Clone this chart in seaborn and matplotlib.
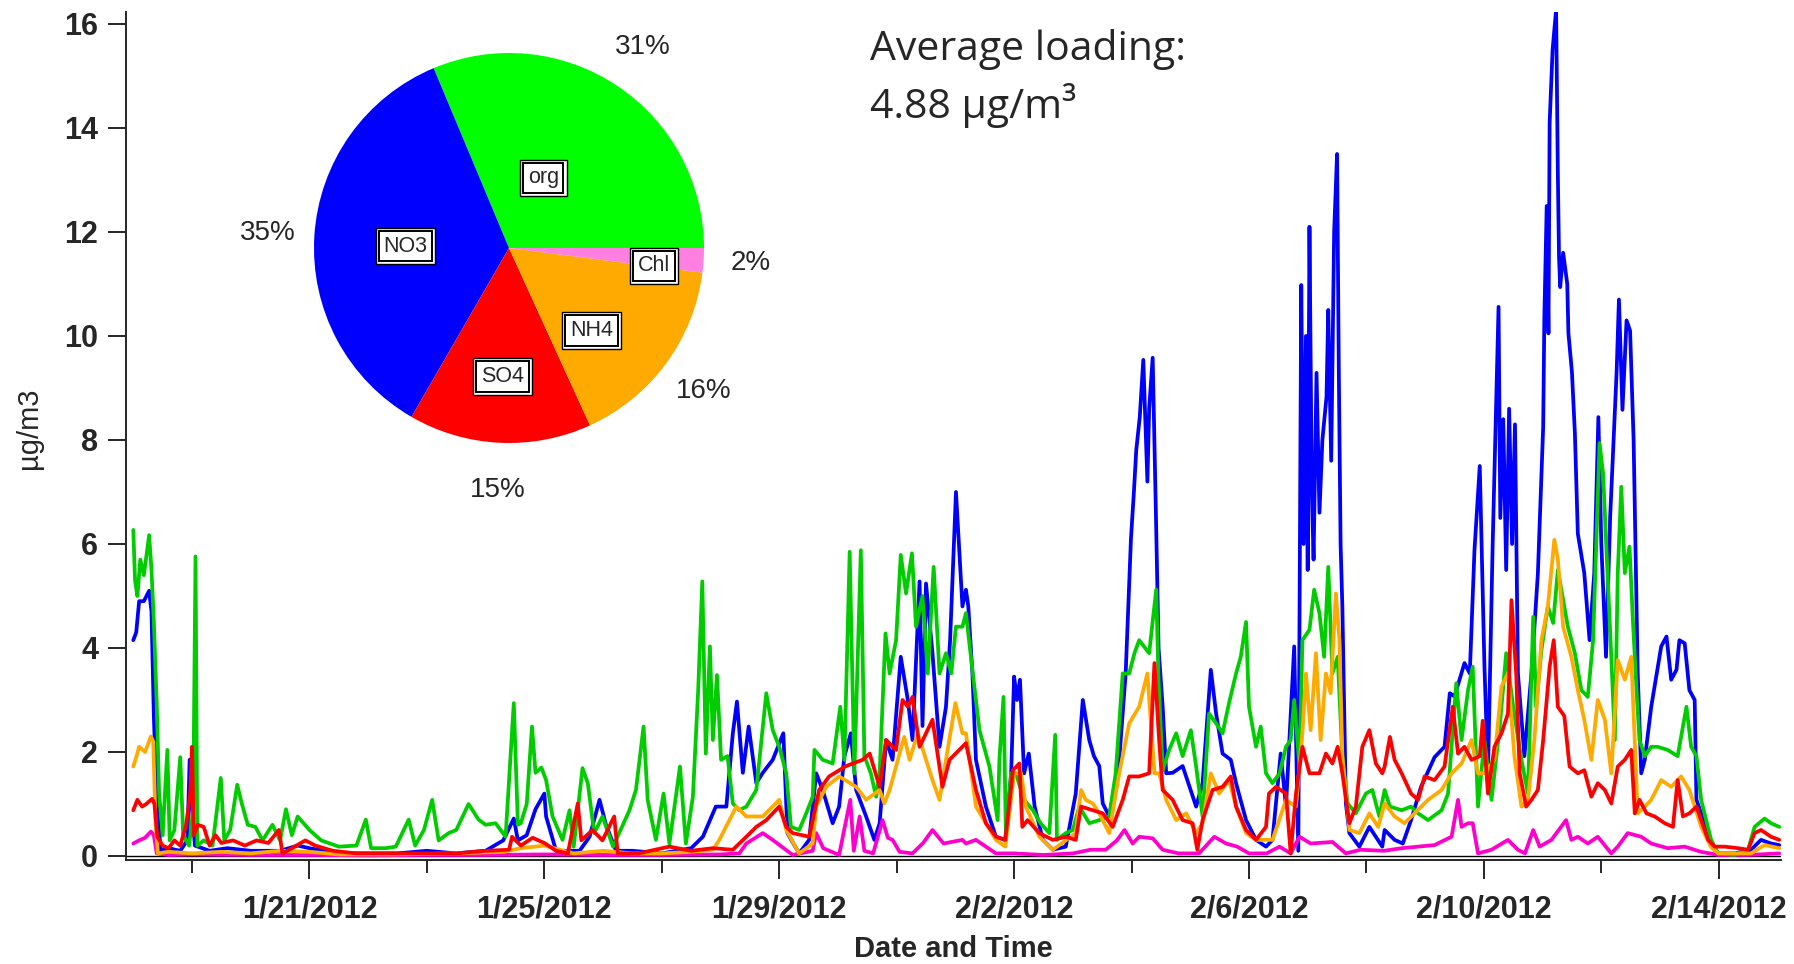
import numpy as np
import pandas as pd
import matplotlib
matplotlib.use('Agg')
import matplotlib.pyplot as plt
import seaborn as sns

start = pd.Timestamp('2012-01-18')

# time series, days after 1/18/2012 00:00 and concentration (ug/m3)
no3_day = [0.00, 0.05, 0.10, 0.18, 0.27, 0.31, 0.35, 0.40, 0.47, 0.6, 0.8, 0.92, 0.96, 1.0, 1.05, 1.3, 1.6, 2.0,
           2.5, 2.8, 3.0, 3.5, 4.0, 4.5, 5.0, 5.5, 6.0, 6.3, 6.48, 6.55, 6.7, 6.85, 7.0, 7.03, 7.2, 7.6, 7.77, 7.94,
           8.05, 8.22, 8.5, 9.0, 9.5, 9.7, 9.92, 10.1, 10.21, 10.28, 10.38, 10.48, 10.61, 10.72, 10.89, 11.07,
           11.14, 11.34, 11.51, 11.63, 11.74, 11.91, 12.02, 12.11, 12.22, 12.31, 12.48, 12.62, 12.71, 12.82, 12.93,
           13.07, 13.19, 13.27, 13.39, 13.44, 13.5, 13.61, 13.73, 13.84, 13.91, 14.01, 14.12, 14.18, 14.22, 14.29,
           14.35, 14.52, 14.69, 14.85, 14.95, 15.0, 15.05, 15.1, 15.17, 15.25, 15.35, 15.49, 15.66, 15.88, 16.05,
           16.17, 16.28, 16.36, 16.45, 16.51, 16.62, 16.79, 16.9, 16.99, 17.04, 17.08, 17.14, 17.2, 17.27, 17.3,
           17.36, 17.42, 17.46, 17.53, 17.59, 17.7, 17.87, 18.1, 18.21, 18.35, 18.44, 18.55, 18.69, 18.78, 18.95,
           19.12, 19.29, 19.4, 19.54, 19.63, 19.77, 19.84, 19.89, 19.93, 19.97, 20.0, 20.03, 20.07, 20.1, 20.15,
           20.2, 20.25, 20.32, 20.35, 20.4, 20.45, 20.5, 20.53, 20.56, 20.59, 20.65, 20.71, 20.88, 21.05, 21.27,
           21.31, 21.48, 21.62, 21.76, 21.93, 22.16, 22.33, 22.42, 22.5, 22.67, 22.76, 22.84, 22.93, 23.01, 23.07,
           23.15, 23.25, 23.28, 23.33, 23.38, 23.43, 23.48, 23.53, 23.58, 23.69, 23.81, 23.92, 24.01, 24.03, 24.07,
           24.1, 24.12, 24.17, 24.23, 24.26, 24.28, 24.3, 24.35, 24.42, 24.44, 24.5, 24.55, 24.6, 24.71, 24.8,
           24.88, 24.95, 25.0, 25.08, 25.15, 25.26, 25.3, 25.36, 25.43, 25.49, 25.55, 25.62, 25.68, 25.74, 25.85,
           26.02, 26.11, 26.19, 26.28, 26.33, 26.42, 26.5, 26.59, 26.62, 26.76, 26.9, 26.99, 27.27, 27.55, 27.72,
           27.89, 28.03]
no3_val = [4.15, 4.3, 4.9, 4.9, 5.1, 4.7, 2.7, 1.0, 0.1, 0.15, 0.1, 0.3, 1.85, 0.9, 0.2, 0.1, 0.15, 0.1,
           0.1, 0.2, 0.15, 0.05, 0.05, 0.05, 0.1, 0.05, 0.1, 0.3, 0.72, 0.3, 0.4, 0.9, 1.2, 0.76, 0.1, 0.1, 0.37, 1.08,
           0.6, 0.1, 0.1, 0.05, 0.15, 0.37, 0.95, 0.95, 2.36, 2.97, 1.6, 2.49, 1.4, 1.6, 1.85, 2.36,
           0.44, 0.05, 0.31, 1.59, 1.27, 0.63, 0.95, 1.92, 2.36, 1.27, 0.76, 0.31, 0.63, 2.23, 1.85,
           3.83, 3.0, 2.23, 5.28, 2.5, 5.24, 3.9, 2.1, 2.87, 4.15, 7.0, 4.8, 5.12, 4.8, 3.51,
           1.85, 0.95, 0.37, 0.31, 1.59, 3.45, 3.0, 3.39, 1.59, 1.97, 0.95, 0.31, 0.12, 0.18, 1.2,
           3.0, 2.23, 1.92, 1.73, 1.01, 0.76, 1.85, 3.51, 6.1, 7.0, 7.8, 8.44, 9.54, 7.2, 8.6,
           9.58, 6.3, 4.0, 2.87, 1.59, 1.6, 1.73, 0.95, 1.4, 3.58, 2.74, 1.97, 1.85, 1.4, 0.69,
           0.31, 0.18, 0.31, 1.97, 0.95, 4.03, 0.1, 10.98, 6.0, 10.0, 5.5, 12.1, 7.0, 5.7, 9.29,
           6.6, 8.0, 8.83, 10.5, 7.6, 12.0, 13.5, 9.3, 6.0, 4.8, 1.01, 0.44, 0.18, 0.56, 0.18,
           0.5, 0.31, 0.24, 0.69, 1.33, 1.9, 2.1, 3.13, 3.07, 3.71, 3.51, 5.88, 7.5, 3.64, 1.59,
           6.0, 10.56, 6.5, 8.4, 5.5, 8.6, 6.0, 8.3, 3.51, 1.92, 3.51, 5.44, 8.25, 10.37, 12.5,
           10.05, 14.1, 15.5, 16.27, 13.1, 11.5, 10.94, 11.6, 11.0, 10.05, 9.3, 8.13, 6.2, 5.44, 4.15,
           5.44, 8.44, 6.0, 3.83, 6.5, 9.29, 10.7, 8.58, 10.3, 10.1, 8.0, 3.51, 1.59, 1.85, 2.87,
           4.03, 4.22, 3.39, 3.58, 4.15, 4.09, 3.19, 3.0, 1.08, 0.63, 0.17, 0.05, 0.05, 0.12, 0.31,
           0.24, 0.21]

org_day = [0.00, 0.03, 0.07, 0.12, 0.18, 0.27, 0.31, 0.35, 0.40, 0.44, 0.5, 0.58, 0.62, 0.7, 0.8, 0.85, 0.95,
           1.02, 1.06, 1.09, 1.2, 1.35, 1.49, 1.55, 1.65, 1.77, 1.85, 1.95, 2.08, 2.2, 2.37, 2.5, 2.6, 2.7, 2.8,
           3.0, 3.2, 3.5, 3.8, 3.96, 4.05, 4.3, 4.47, 4.69, 4.8, 4.95, 5.09, 5.2, 5.37, 5.5, 5.71, 5.88, 6.0,
           6.17, 6.34, 6.48, 6.55, 6.6, 6.7, 6.79, 6.85, 6.95, 7.03, 7.14, 7.31, 7.43, 7.5, 7.65, 7.74, 7.85,
           7.99, 8.17, 8.45, 8.56, 8.69, 8.76, 8.9, 9.03, 9.13, 9.31, 9.41, 9.53, 9.62, 9.69, 9.75, 9.82, 9.87,
           9.94, 10.01, 10.12, 10.21, 10.32, 10.44, 10.61, 10.78, 10.89, 11.0, 11.12, 11.2, 11.34, 11.46, 11.57,
           11.6, 11.74, 11.91, 12.04, 12.11, 12.2, 12.28, 12.39, 12.45, 12.56, 12.65, 12.71, 12.81, 12.88, 12.99,
           13.07, 13.16, 13.26, 13.33, 13.44, 13.53, 13.63, 13.73, 13.84, 13.93, 14.01, 14.12, 14.18, 14.29,
           14.41, 14.58, 14.72, 14.75, 14.82, 14.86, 14.95, 15.03, 15.17, 15.32, 15.45, 15.6, 15.7, 15.73, 15.88,
           16.0, 16.11, 16.28, 16.45, 16.62, 16.73, 16.85, 16.96, 17.05, 17.13, 17.3, 17.42, 17.46, 17.53, 17.64,
           17.76, 17.87, 18.01, 18.1, 18.21, 18.32, 18.44, 18.55, 18.66, 18.78, 18.86, 18.95, 19.0, 19.12, 19.2,
           19.29, 19.4, 19.52, 19.63, 19.71, 19.77, 19.86, 19.91, 20.03, 20.11, 20.2, 20.28, 20.35, 20.42, 20.51,
           20.59, 20.68, 20.82, 20.99, 21.1, 21.22, 21.31, 21.4, 21.6, 21.76, 21.88, 22.05, 22.28, 22.39, 22.53,
           22.62, 22.73, 22.81, 22.9, 23.01, 23.13, 23.27, 23.38, 23.5, 23.64, 23.75, 23.84, 23.89, 23.98, 24.09,
           24.18, 24.26, 24.35, 24.43, 24.55, 24.66, 24.77, 24.86, 24.97, 25.03, 25.08, 25.17, 25.23, 25.28,
           25.34, 25.4, 25.48, 25.54, 25.6, 25.65, 25.74, 25.85, 25.96, 26.13, 26.3, 26.45, 26.53, 26.62, 26.7,
           26.87, 26.99, 27.27, 27.5, 27.61, 27.78, 27.89, 28.03]
org_val = [6.27, 5.3, 5.0, 5.7, 5.4, 6.17, 5.5, 4.5, 2.9, 1.2, 0.4, 2.04, 0.3, 0.5, 1.9, 0.4, 0.2,
           0.9, 5.76, 0.2, 0.3, 0.2, 1.5, 0.3, 0.5, 1.37, 1.0, 0.6, 0.56, 0.3, 0.6, 0.3, 0.9, 0.4, 0.76,
           0.5, 0.3, 0.18, 0.2, 0.7, 0.15, 0.15, 0.18, 0.7, 0.2, 0.5, 1.08, 0.3, 0.44, 0.5, 1.0, 0.7, 0.6,
           0.63, 0.37, 2.94, 0.6, 0.63, 1.0, 2.49, 1.6, 1.7, 1.46, 0.76, 0.31, 0.88, 0.18, 1.69, 1.4, 0.44,
           0.76, 0.18, 0.88, 1.27, 2.49, 1.08, 0.31, 1.2, 0.24, 1.72, 0.24, 1.14, 3.19, 5.28, 1.97, 4.03, 2.23,
           3.48, 1.85, 1.92, 1.01, 0.88, 0.95, 1.27, 3.13, 2.42, 2.1, 1.59, 0.56, 0.5, 0.82, 1.14,
           2.04, 1.85, 1.78, 2.87, 1.85, 5.85, 1.59, 5.88, 1.92, 1.59, 1.14, 1.59, 4.28, 3.51, 4.15,
           5.79, 5.05, 5.82, 4.41, 5.0, 3.51, 5.56, 3.51, 3.9, 3.51, 4.41, 4.41, 4.67, 3.58,
           2.42, 1.72, 0.69, 1.85, 3.06, 0.44, 1.59, 1.59, 1.08, 0.88, 0.63, 0.44, 2.33, 0.31, 0.44,
           0.5, 0.95, 0.63, 0.69, 0.76, 1.59, 3.51, 3.51, 3.9, 4.15, 3.9, 5.12, 3.38, 1.65, 2.04,
           2.36, 1.92, 2.42, 1.72, 0.76, 2.74, 2.55, 2.36, 2.94, 3.51, 3.83, 4.5, 2.87, 2.1, 2.49,
           1.59, 1.4, 1.59, 2.1, 2.23, 3.0, 1.72, 4.15, 4.35, 5.12, 4.67, 3.83, 5.56, 3.51, 3.83,
           1.92, 1.01, 0.82, 1.2, 1.27, 0.76, 1.27, 0.95, 0.88, 0.95, 0.82, 0.69, 0.88, 1.2, 3.32,
           2.23, 3.19, 3.64, 0.95, 2.23, 1.08, 2.49, 3.9, 2.87, 1.85, 1.2, 4.6, 2.87, 3.96, 4.8,
           4.48, 5.5, 4.92, 4.41, 3.9, 3.19, 3.06, 4.15, 7.94, 7.36, 6.08, 3.83, 2.23, 5.44,
           7.1, 5.44, 5.95, 4.48, 3.19, 2.23, 1.92, 2.1, 2.1, 2.04, 1.92, 2.87, 2.1, 1.92, 1.08,
           0.31, 0.05, 0.02, 0.12, 0.56, 0.72, 0.63, 0.56]

nh4_day = [0.00, 0.05, 0.1, 0.2, 0.3, 0.34, 0.38, 0.42, 0.6, 1.0, 1.5, 2.0, 2.5, 3.0, 3.5, 4.5, 5.5, 6.3, 6.6,
           7.0, 7.5, 8.0, 8.5, 9.0, 9.5, 9.87, 9.98, 10.27, 10.44, 10.72, 11.0, 11.12, 11.34, 11.57, 11.63, 11.8,
           12.02, 12.31, 12.48, 12.71, 12.79, 12.88, 13.05, 13.13, 13.22, 13.36, 13.5, 13.61, 13.73, 13.84, 14.0,
           14.12, 14.18, 14.35, 14.52, 14.69, 14.85, 15.0, 15.12, 15.2, 15.43, 15.66, 16.05, 16.14, 16.22, 16.34,
           16.45, 16.62, 16.79, 16.96, 17.13, 17.27, 17.39, 17.47, 17.59, 17.76, 17.93, 18.1, 18.21, 18.35,
           18.49, 18.66, 18.78, 18.95, 19.12, 19.4, 19.63, 19.8, 19.91, 19.97, 20.05, 20.14, 20.22, 20.31,
           20.39, 20.48, 20.54, 20.59, 20.71, 20.88, 21.05, 21.2, 21.31, 21.48, 21.65, 21.82, 22.05, 22.28,
           22.45, 22.62, 22.79, 22.9, 23.01, 23.18, 23.3, 23.41, 23.52, 23.64, 23.75, 23.86, 23.98, 24.09, 24.2,
           24.26, 24.35, 24.49, 24.6, 24.71, 24.83, 24.94, 25.06, 25.17, 25.28, 25.4, 25.51, 25.62, 25.74,
           25.85, 26.02, 26.19, 26.36, 26.5, 26.59, 26.7, 26.87, 26.99, 27.55, 27.78, 28.03]
nh4_val = [1.72, 1.9, 2.1, 2.0, 2.3, 2.2, 0.6, 0.05, 0.08, 0.05, 0.08, 0.05, 0.1, 0.08, 0.03, 0.03, 0.05, 0.08, 0.15,
           0.2, 0.05, 0.1, 0.05, 0.05, 0.08, 0.12, 0.31, 0.95, 0.76, 0.76, 1.08, 0.5, 0.05, 0.24, 0.95, 1.33,
           1.53, 1.33, 1.08, 1.27, 1.01, 1.27, 1.97, 2.29, 1.85, 2.36, 1.85, 1.46, 1.08, 1.85, 2.94,
           2.36, 2.36, 0.95, 0.63, 0.31, 0.18, 1.59, 1.59, 0.95, 0.37, 0.12, 0.44, 1.27, 1.08, 1.01,
           0.82, 0.44, 1.59, 2.55, 2.87, 3.51, 1.59, 1.59, 1.08, 0.69, 0.82, 0.44, 0.63, 1.59,
           1.2, 1.46, 0.95, 0.44, 0.31, 0.31, 1.08, 0.95, 2.36, 3.51, 2.42, 3.9, 2.23, 3.51,
           3.13, 5.05, 4.15, 1.92, 0.5, 0.44, 0.82, 0.56, 1.01, 0.76, 0.63, 0.82, 1.08, 1.27,
           1.59, 1.78, 2.23, 1.59, 1.59, 1.85, 3.26, 3.51, 1.92, 0.95, 1.08, 2.23, 4.15, 4.8, 6.08,
           5.7, 4.41, 3.83, 3.19, 2.62, 1.85, 3.0, 2.62, 1.59, 3.77, 3.39, 3.83, 0.82, 0.95,
           1.08, 1.46, 1.33, 1.53, 1.27, 0.95, 0.56, 0.17, 0.05, 0.05, 0.21, 0.15]

so4_day = [0.00, 0.07, 0.15, 0.22, 0.32, 0.36, 0.41, 0.5, 0.6, 0.7, 0.8, 0.9, 0.97, 1.0, 1.03, 1.1, 1.2, 1.3,
           1.4, 1.5, 1.7, 1.9, 2.1, 2.3, 2.48, 2.54, 2.7, 2.93, 3.1, 3.4, 3.8, 4.5, 5.0, 5.5, 6.0, 6.4, 6.45,
           6.6, 6.8, 7.0, 7.2, 7.4, 7.57, 7.63, 7.82, 7.99, 8.19, 8.25, 8.6, 9.13, 9.5, 9.87, 10.21, 10.44,
           10.61, 10.78, 11.0, 11.12, 11.23, 11.51, 11.68, 11.85, 12.14, 12.42, 12.54, 12.71, 12.82, 12.99, 13.1,
           13.19, 13.27, 13.39, 13.61, 13.78, 13.9, 14.12, 14.18, 14.35, 14.52, 14.69, 14.85, 14.98, 15.09,
           15.14, 15.23, 15.43, 15.66, 15.88, 16.05, 16.14, 16.34, 16.51, 16.68, 16.85, 16.96, 17.13, 17.3,
           17.39, 17.47, 17.53, 17.7, 17.87, 18.04, 18.12, 18.21, 18.38, 18.55, 18.69, 18.78, 18.95, 19.12,
           19.29, 19.34, 19.46, 19.63, 19.71, 19.8, 19.91, 20.03, 20.2, 20.31, 20.42, 20.51, 20.59, 20.71,
           20.82, 20.93, 21.05, 21.16, 21.27, 21.31, 21.4, 21.48, 21.6, 21.76, 21.88, 21.99, 22.16, 22.33,
           22.47, 22.56, 22.67, 22.79, 22.93, 22.98, 23.07, 23.18, 23.3, 23.41, 23.47, 23.55, 23.61, 23.72,
           23.81, 23.92, 24.01, 24.12, 24.19, 24.26, 24.37, 24.46, 24.6, 24.71, 24.83, 24.94, 25.06, 25.17,
           25.28, 25.4, 25.51, 25.57, 25.65, 25.77, 25.91, 26.08, 26.22, 26.3, 26.39, 26.5, 26.62, 26.7,
           26.82, 26.93, 27.1, 27.33, 27.5, 27.61, 27.72, 27.89, 28.03]
so4_val = [0.88, 1.08, 0.95, 1.0, 1.1, 1.0, 0.37, 0.2, 0.15, 0.3, 0.2, 0.6, 1.2, 2.1, 0.4, 0.6, 0.56, 0.2,
           0.4, 0.25, 0.3, 0.2, 0.3, 0.25, 0.5, 0.05, 0.15, 0.3, 0.2, 0.1, 0.05, 0.05, 0.05, 0.05, 0.1, 0.12, 0.37,
           0.2, 0.35, 0.25, 0.1, 0.05, 1.01, 0.3, 0.5, 0.3, 0.76, 0.05, 0.05, 0.18, 0.1, 0.15, 0.12, 0.37,
           0.56, 0.69, 0.95, 0.56, 0.44, 0.37, 1.27, 1.53, 1.73, 1.85, 1.97, 1.33, 2.23, 2.04, 3.0,
           2.87, 3.06, 2.1, 2.62, 1.33, 1.85, 2.1, 2.17, 1.27, 0.63, 0.37, 0.31, 1.65, 1.78,
           0.56, 0.69, 0.44, 0.31, 0.37, 0.31, 0.95, 0.88, 0.82, 0.56, 1.08, 1.53, 1.53, 1.59,
           3.71, 2.23, 1.27, 1.08, 0.69, 0.63, 0.12, 0.69, 1.27, 1.33, 1.53, 0.95, 0.5, 0.31,
           0.56, 1.2, 1.33, 1.2, 0.05, 1.2, 2.1, 1.59, 1.59, 1.97, 1.78, 2.1, 1.59, 0.63,
           0.95, 2.1, 2.42, 1.78, 1.59, 1.72, 2.29, 1.85, 1.59, 1.2, 1.08, 1.53, 1.46, 1.72,
           2.87, 1.97, 2.1, 1.85, 1.92, 2.6, 1.2, 2.1, 2.36, 2.74, 4.92, 3.51, 1.59, 0.95,
           1.08, 1.27, 2.23, 3.64, 4.15, 2.87, 2.69, 1.72, 1.59, 1.65, 1.14, 1.4, 1.27, 1.01,
           1.72, 1.85, 2.04, 0.82, 1.08, 0.82, 0.76, 0.63, 0.56, 1.46, 0.76, 0.82, 0.95, 0.69,
           0.31, 0.18, 0.18, 0.15, 0.12, 0.44, 0.5, 0.37, 0.31]

chl_day = [0.00, 0.1, 0.2, 0.3, 0.35, 0.4, 0.6, 1.0, 2.0, 3.0, 4.0, 5.0, 6.0, 7.0, 8.0, 9.0, 10.0, 10.32, 10.44,
           10.72, 10.9, 11.23, 11.57, 11.63, 11.75, 12.02, 12.21, 12.27, 12.37, 12.45, 12.6, 12.76, 12.85, 12.93,
           13.05, 13.27, 13.45, 13.61, 13.8, 14.12, 14.18, 14.35, 14.52, 14.69, 15.0, 15.5, 16.0, 16.3, 16.56,
           16.75, 16.88, 17.02, 17.13, 17.36, 17.53, 17.8, 18.15, 18.41, 18.61, 18.8, 19.0, 19.3, 19.52, 19.71,
           19.86, 20.05, 20.42, 20.65, 20.9, 21.3, 21.6, 21.88, 22.16, 22.45, 22.56, 22.62, 22.73, 22.81, 22.9,
           23.13, 23.41, 23.58, 23.7, 23.84, 23.95, 24.15, 24.4, 24.49, 24.6, 24.77, 24.94, 25.17, 25.28, 25.45,
           25.68, 25.85, 26.13, 26.42, 26.7, 26.99, 27.5, 28.03]
chl_val = [0.24, 0.3, 0.35, 0.47, 0.4, 0.05, 0.02, 0.03, 0.02, 0.02, 0.01, 0.02, 0.02, 0.03, 0.02, 0.02, 0.03, 0.05, 0.24,
           0.44, 0.3, 0.02, 0.1, 0.44, 0.15, 0.02, 1.08, 0.1, 0.76, 0.1, 0.05, 0.69, 0.35, 0.31,
           0.08, 0.05, 0.25, 0.5, 0.24, 0.31, 0.24, 0.31, 0.18, 0.05, 0.05, 0.02, 0.05, 0.12, 0.12,
           0.3, 0.5, 0.24, 0.37, 0.34, 0.12, 0.05, 0.05, 0.37, 0.24, 0.18, 0.05, 0.05, 0.18, 0.05,
           0.37, 0.24, 0.27, 0.05, 0.12, 0.1, 0.15, 0.18, 0.21, 0.37, 1.08, 0.56, 0.63, 0.63, 0.05,
           0.12, 0.31, 0.12, 0.05, 0.5, 0.18, 0.31, 0.69, 0.31, 0.37, 0.24, 0.37, 0.05, 0.18, 0.44,
           0.37, 0.24, 0.15, 0.18, 0.08, 0.02, 0.02, 0.05]

# pie of average composition
pie_species = ['org', 'NO3', 'SO4', 'NH4', 'Chl']
pie_pct = [31, 35, 15, 16, 2]

major_ticks = ['2012-01-21', '2012-01-25', '2012-01-29', '2012-02-02', '2012-02-06', '2012-02-10', '2012-02-14']
major_labels = ['1/21/2012', '1/25/2012', '1/29/2012', '2/2/2012', '2/6/2012', '2/10/2012', '2/14/2012']
minor_ticks = ['2012-01-19', '2012-01-23', '2012-01-27', '2012-01-31', '2012-02-04', '2012-02-08', '2012-02-12']

line_colors = {'NO3': '#0000ff', 'org': '#00cc00', 'NH4': '#ffaa00', 'SO4': '#ff0000', 'Chl': '#ff00cc'}
pie_colors = ['#00ff00', '#0000ff', '#ff0000', '#ffaa00', '#ff80e0']

frames = []
for name, d, v in [('NO3', no3_day, no3_val), ('Chl', chl_day, chl_val), ('org', org_day, org_val),
                   ('NH4', nh4_day, nh4_val), ('SO4', so4_day, so4_val)]:
    frames.append(pd.DataFrame({'time': start + pd.to_timedelta(d, unit='D'), 'conc': v, 'species': name}))
df = pd.concat(frames, ignore_index=True)

sns.set_style('ticks')
plt.rcParams['font.family'] = ['Liberation Sans', 'DejaVu Sans']

fig = plt.figure(figsize=(17.94, 9.64), dpi=100)
ax = fig.add_axes([126 / 1794, 104 / 964, 1655 / 1794, 848 / 964])

sns.lineplot(data=df, x='time', y='conc', hue='species', hue_order=['NO3', 'Chl', 'org', 'NH4', 'SO4'],
             palette=line_colors, linewidth=2.7, estimator=None, legend=False, ax=ax)
ax.axhline(0, color='black', lw=1.0, zorder=1)

ax.set_xlim(start - pd.Timedelta(days=0.124), start + pd.Timedelta(days=28.06))
ax.set_ylim(-0.077, 16.23)
ax.set_yticks(range(0, 17, 2))
ax.set_xticks(pd.to_datetime(major_ticks))
ax.set_xticklabels(major_labels)
ax.set_xticks(pd.to_datetime(minor_ticks), minor=True)

sns.despine(ax=ax)
for s in ['left', 'bottom']:
    ax.spines[s].set_linewidth(1.4)
ax.tick_params(axis='y', length=13, width=1.4, pad=7, labelsize=22)
ax.tick_params(axis='x', which='major', length=14, width=1.4, pad=11, labelsize=22)
ax.tick_params(axis='x', which='minor', length=9.5, width=1.4)
for lbl in ax.get_xticklabels() + ax.get_yticklabels():
    lbl.set_fontweight('bold')

ax.set_xlabel('Date and Time', fontsize=21, fontweight='bold', va='center')
ax.xaxis.set_label_coords(0.5, -0.105)
ax.set_ylabel('µg/m3', fontsize=21, va='center')
ax.yaxis.set_label_coords(-0.0586, 0.509)

# pie inset
pax = fig.add_axes([(509 - 195) / 1794, (964 - 248 - 195) / 964, 390 / 1794, 390 / 964])
wedges, texts, autotexts = pax.pie(pie_pct, colors=pie_colors, startangle=0, counterclock=True,
                                   autopct='%.0f%%', pctdistance=1.24, textprops=dict(fontsize=20),
                                   wedgeprops=dict(linewidth=0, edgecolor='none'))
pax.set_xlim(-1, 1)
pax.set_ylim(-1, 1)

name_pos = [(0.40, 64), (0.53, 179), (0.66, 267), (0.60, 315), (0.75, 353)]
for name, (r, a) in zip(pie_species, name_pos):
    x, y = r * np.cos(np.radians(a)), r * np.sin(np.radians(a))
    pax.text(x, y, name, ha='center', va='center', fontsize=15.5,
             bbox=dict(boxstyle='square,pad=0.36', fc='white', ec='black', lw=1.0))
    pax.text(x, y, name, ha='center', va='center', fontsize=15.5,
             bbox=dict(boxstyle='square,pad=0.22', fc='white', ec='black', lw=1.4))

fig.text(870 / 1794, 1 - 60 / 964, 'Average loading:', fontsize=29.5, va='baseline',
         family=['Open Sans', 'DejaVu Sans'])
fig.text(870 / 1794, 1 - 118 / 964, '4.88 µg/m³', fontsize=29.5, va='baseline',
         family=['Open Sans', 'DejaVu Sans'])

fig.savefig('out.png', dpi=100)
